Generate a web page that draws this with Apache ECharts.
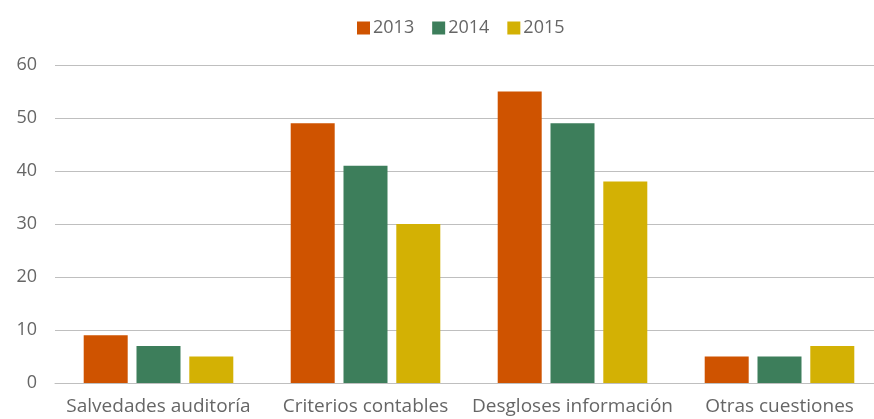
<!DOCTYPE html>
<html>
<head>
<meta charset="utf-8">
<script src="https://cdn.jsdelivr.net/npm/echarts@6/dist/echarts.min.js"></script>
<style>
  html, body { margin: 0; padding: 0; background: #fff; }
  #chart { width: 874px; height: 419px; }
</style>
</head>
<body>
<div id="chart"></div>
<script>
const categories = ['Salvedades auditoría', 'Criterios contables', 'Desgloses información', 'Otras cuestiones']
const years = ['2013', '2014', '2015']
const values2013 = [9, 49, 55, 5]
const values2014 = [7, 41, 49, 5]
const values2015 = [5, 30, 38, 7]
const yTicks = [0, 10, 20, 30, 40, 50, 60]

const colors = ['#CF5300', '#3D7E5B', '#D3B104']
const textColor = '#666666'
const font = 'Open Sans'

const chart = echarts.init(document.getElementById('chart'))

const option = {
  animation: false,
  color: colors,
  textStyle: { fontFamily: font },
  legend: {
    top: 14,
    left: 352,
    itemWidth: 13,
    itemHeight: 13,
    itemGap: 18,
    icon: 'rect',
    textStyle: { color: textColor, fontSize: 18, fontFamily: font, padding: [0, 0, 0, -2] },
    data: years
  },
  grid: {
    left: 55,
    top: 65,
    width: 828,
    height: 318,
    outerBoundsMode: 'none'
  },
  xAxis: {
    type: 'category',
    data: categories,
    axisLine: { lineStyle: { color: '#bfbfbf', width: 1 } },
    axisTick: { show: false },
    axisLabel: { color: textColor, fontSize: 19, margin: 14, interval: 0, fontFamily: font }
  },
  yAxis: {
    type: 'value',
    min: yTicks[0],
    max: yTicks[yTicks.length - 1],
    interval: 10,
    axisLine: { show: false },
    axisTick: { show: false },
    axisLabel: { color: textColor, fontSize: 18, margin: 18, fontFamily: font },
    splitLine: { lineStyle: { color: '#bfbfbf', width: 1 } }
  },
  series: [
    { name: years[0], type: 'bar', data: values2013, barWidth: 44, barGap: '20%' },
    { name: years[1], type: 'bar', data: values2014, barWidth: 44, barGap: '20%' },
    { name: years[2], type: 'bar', data: values2015, barWidth: 44, barGap: '20%' }
  ]
}

chart.setOption(option)
</script>
</body>
</html>
